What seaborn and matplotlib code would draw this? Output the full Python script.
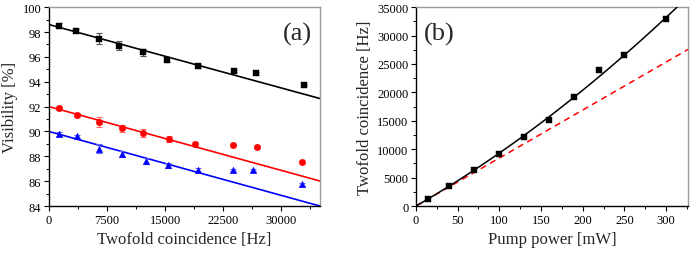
import numpy as np
import pandas as pd
import matplotlib
matplotlib.use("Agg")
import matplotlib.pyplot as plt
from matplotlib.ticker import MultipleLocator
import seaborn as sns

# ---------------- data: panel (a) ----------------
x_black = [1300, 3550, 6450, 9100, 12100, 15200, 19200, 23900, 26700, 32900]
v_black = [98.52, 98.12, 97.46, 96.90, 96.37, 95.76, 95.28, 94.88, 94.68, 93.71]
e_black = [0.18, 0.15, 0.45, 0.35, 0.28, 0.20, 0.18, 0.10, 0.10, 0.08]

x_red = [1330, 3600, 6500, 9450, 12200, 15450, 18800, 23800, 26850, 32700]
v_red = [91.90, 91.31, 90.73, 90.24, 89.89, 89.38, 88.98, 88.92, 88.76, 87.53]
e_red = [0.15, 0.15, 0.40, 0.30, 0.30, 0.25, 0.18, 0.10, 0.10, 0.08]

x_blue = [1330, 3600, 6500, 9450, 12500, 15400, 19250, 23750, 26300, 32700]
v_blue = [89.78, 89.60, 88.63, 88.19, 87.63, 87.28, 86.90, 86.90, 86.90, 85.75]
e_blue = [0.15, 0.15, 0.35, 0.25, 0.25, 0.20, 0.20, 0.10, 0.10, 0.10]

# linear fits: visibility = intercept + slope * rate
fit_intercepts = [98.6, 92.0, 90.0]
fit_slopes = [-1.70e-4, -1.71e-4, -1.714e-4]

# ---------------- data: panel (b) ----------------
pump_power = [15, 40, 70, 100, 130, 160, 190, 220, 250, 300]
twofold = [1200, 3500, 6400, 9100, 12100, 15150, 19150, 23900, 26650, 32950]
lin_coef = 84.5        # Hz / mW  (linear, dashed)
quad_coef = 0.0873     # Hz / mW^2 (quadratic term of solid fit)

# ---------------- style ----------------
sns.set_theme(style="ticks")
plt.rcParams["font.family"] = ["Liberation Serif", "DejaVu Serif"]
plt.rcParams["mathtext.fontset"] = "stix"
plt.rcParams["xtick.direction"] = "out"
plt.rcParams["ytick.direction"] = "out"

fig = plt.figure(figsize=(6.92, 2.55), dpi=100)
ax1 = fig.add_axes([0.0708, 0.188, 0.3916, 0.78])
ax2 = fig.add_axes([0.601, 0.188, 0.393, 0.78])

tick_fs = 9
label_fs = 12

def style_axes(ax):
    for s in ["left", "bottom"]:
        ax.spines[s].set_color("black")
        ax.spines[s].set_linewidth(1.0)
    for s in ["top", "right"]:
        ax.spines[s].set_color("#9a9a9a")
        ax.spines[s].set_linewidth(1.0)
    ax.tick_params(which="major", length=3.5, width=0.8, labelsize=tick_fs, pad=2, colors="black")
    ax.tick_params(which="minor", length=2, width=0.7, colors="black")

# ---------------- panel (a) ----------------
series = [
    (x_black, v_black, e_black, "black", "s", "#555555"),
    (x_red, v_red, e_red, "#ff0000", "o", "#ff6666"),
    (x_blue, v_blue, e_blue, "#0000ff", "^", "#6666ff"),
]
xfit = np.linspace(0, 35000, 50)
for (xs, vs, es, col, mk, ecol), b0, b1 in zip(series, fit_intercepts, fit_slopes):
    df_fit = pd.DataFrame({"x": xfit, "y": b0 + b1 * xfit})
    sns.lineplot(data=df_fit, x="x", y="y", ax=ax1, color=col, lw=1.2, zorder=2)
    ax1.errorbar(xs, vs, yerr=es, fmt="none", ecolor=ecol, elinewidth=0.8,
                 capsize=2.2, capthick=0.8, zorder=3)
    df = pd.DataFrame({"x": xs, "y": vs})
    sns.scatterplot(data=df, x="x", y="y", ax=ax1, color=col, marker=mk,
                    s=22, edgecolor=col, linewidth=0.3, zorder=4)

ax1.set_xlim(0, 35000)
ax1.set_ylim(84, 100)
ax1.xaxis.set_major_locator(MultipleLocator(7500))
ax1.xaxis.set_minor_locator(MultipleLocator(3750))
ax1.yaxis.set_major_locator(MultipleLocator(2))
ax1.yaxis.set_minor_locator(MultipleLocator(1))
ax1.set_xlabel("Twofold coincidence [Hz]", fontsize=label_fs, labelpad=4)
ax1.set_ylabel("Visibility [%]", fontsize=label_fs, labelpad=3)
style_axes(ax1)
ax1.text(0.97, 0.87, "(a)", transform=ax1.transAxes, ha="right", va="center", fontsize=19)

# ---------------- panel (b) ----------------
pfit = np.linspace(0, 330, 100)
df_quad = pd.DataFrame({"x": pfit, "y": lin_coef * pfit + quad_coef * pfit ** 2})
df_lin = pd.DataFrame({"x": pfit, "y": lin_coef * pfit})
sns.lineplot(data=df_lin, x="x", y="y", ax=ax2, color="#ff0000", lw=1.1,
             linestyle=(0, (4, 3)), zorder=2)
sns.lineplot(data=df_quad, x="x", y="y", ax=ax2, color="black", lw=1.1, zorder=3)
df_b = pd.DataFrame({"x": pump_power, "y": twofold})
sns.scatterplot(data=df_b, x="x", y="y", ax=ax2, color="black", marker="s",
                s=22, edgecolor="black", linewidth=0.3, zorder=4)

ax2.set_xlim(0, 326)
ax2.set_ylim(0, 35000)
ax2.xaxis.set_major_locator(MultipleLocator(50))
ax2.xaxis.set_minor_locator(MultipleLocator(25))
ax2.yaxis.set_major_locator(MultipleLocator(5000))
ax2.yaxis.set_minor_locator(MultipleLocator(2500))
ax2.set_xlabel("Pump power [mW]", fontsize=label_fs, labelpad=4)
ax2.set_ylabel("Twofold coincidence [Hz]", fontsize=label_fs, labelpad=3)
style_axes(ax2)
ax2.text(0.03, 0.87, "(b)", transform=ax2.transAxes, ha="left", va="center", fontsize=19)

fig.savefig("out.png", dpi=100)
